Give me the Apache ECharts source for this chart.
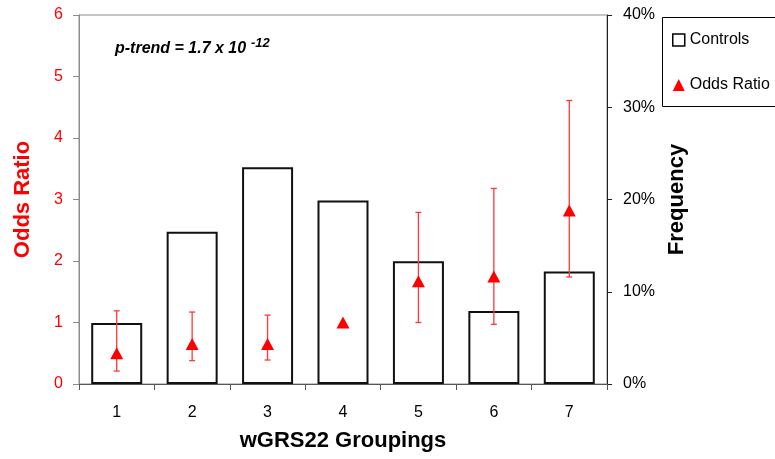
<!DOCTYPE html>
<html>
<head>
<meta charset="UTF-8">
<title>wGRS22 Groupings</title>
<script src="https://cdn.jsdelivr.net/npm/echarts@6/dist/echarts.min.js"></script>
<style>
  html, body { margin: 0; padding: 0; background: #fff; }
  #chart { width: 775px; height: 459px; }
</style>
</head>
<body>
<div id="chart"></div>
<script>
// data
var groups = ['1', '2', '3', '4', '5', '6', '7'];
var controlsFreq = [6.6, 16.5, 23.5, 19.9, 13.3, 7.9, 12.2];   // % (right axis)
var oddsRatio = [0.50, 0.65, 0.65, 1.00, 1.67, 1.75, 2.82];
var ciLow = [0.21, 0.38, 0.39, null, 1.00, 0.97, 1.74];
var ciHigh = [1.19, 1.17, 1.12, null, 2.79, 3.18, 4.61];
var orTicks = [0, 6, 1];      // min, max, step
var freqTicks = [0, 40, 10];

var FONT = 'Liberation Sans, Arial, sans-serif';

var errData = [];
for (var i = 0; i < groups.length; i++) {
  if (ciLow[i] != null) errData.push([i, ciLow[i], ciHigh[i]]);
}

var chart = echarts.init(document.getElementById('chart'));

var option = {
  animation: false,
  textStyle: { fontFamily: FONT },
  grid: {
    left: 79, right: 168, top: 15, bottom: 75,
    show: true, borderColor: '#8c8c8c', borderWidth: 1
  },
  legend: {
    orient: 'vertical',
    left: 662, top: 17,
    padding: [15, 10, 13, 10],
    itemGap: 29,
    itemWidth: 12, itemHeight: 12,
    textStyle: { fontSize: 16, color: '#000', fontFamily: FONT },
    data: [
      { name: 'Controls', icon: 'rect', itemStyle: { color: '#fff', borderColor: '#000', borderWidth: 1.5 } },
      { name: 'Odds Ratio', icon: 'triangle', itemStyle: { color: '#ff0000' } }
    ]
  },
  xAxis: {
    type: 'category',
    data: groups,
    name: 'wGRS22 Groupings',
    nameLocation: 'middle',
    nameGap: 46,
    nameTextStyle: { fontSize: 22, fontWeight: 'bold', color: '#000', fontFamily: FONT },
    axisLine: { lineStyle: { color: '#555', width: 1 } },
    axisTick: { show: true, length: 6, lineStyle: { color: '#555' } },
    axisLabel: { fontSize: 16, color: '#000', margin: 21 }
  },
  yAxis: [{
    type: 'value',
    min: orTicks[0], max: orTicks[1], interval: orTicks[2],
    name: 'Odds Ratio',
    nameLocation: 'middle',
    nameGap: 45,
    nameTextStyle: { fontSize: 22, fontWeight: 'bold', color: '#ff0000', fontFamily: FONT },
    axisLine: { show: true, lineStyle: { color: '#8c8c8c' } },
    axisTick: { show: true, length: 6, lineStyle: { color: '#8c8c8c' } },
    axisLabel: { fontSize: 16, color: '#ff0000', margin: 16 },
    splitLine: { show: false }
  }, {
    type: 'value',
    min: freqTicks[0], max: freqTicks[1], interval: freqTicks[2],
    name: 'Frequency',
    nameLocation: 'middle',
    nameGap: 57,
    nameTextStyle: { fontSize: 22, fontWeight: 'bold', color: '#000', fontFamily: FONT },
    axisLine: { show: true, lineStyle: { color: '#222' } },
    axisTick: { show: true, length: 5, lineStyle: { color: '#222' } },
    axisLabel: { fontSize: 16, color: '#000', margin: 16, formatter: '{value}%' },
    splitLine: { show: false }
  }],
  graphic: [
    // legend frame, runs off the right edge like the original
    { type: 'rect', left: 662, top: 17, z: -1,
      shape: { width: 140, height: 89 },
      style: { fill: '#fff', stroke: '#000', lineWidth: 1 } },
    { type: 'text', left: 115, top: 41,
      style: { text: 'p-trend = 1.7 x 10', font: 'italic bold 16px ' + FONT, fill: '#000' } },
    { type: 'text', left: 251, top: 37,
      style: { text: '-12', font: 'italic bold 13px ' + FONT, fill: '#000' } }
  ],
  series: [{
    name: 'Controls',
    type: 'bar',
    yAxisIndex: 1,
    data: controlsFreq,
    barWidth: 51,
    itemStyle: { color: '#fff', borderColor: '#111', borderWidth: 2 },
    z: 1
  }, {
    name: 'CI',
    type: 'custom',
    yAxisIndex: 0,
    data: errData,
    z: 3,
    renderItem: function (params, api) {
      var x = api.value(0);
      var lo = api.coord([x, api.value(1)]);
      var hi = api.coord([x, api.value(2)]);
      var cap = 3;
      var st = { stroke: '#ff3838', lineWidth: 1.3 };
      return {
        type: 'group',
        children: [
          { type: 'line', shape: { x1: lo[0], y1: lo[1], x2: hi[0], y2: hi[1] }, style: st },
          { type: 'line', shape: { x1: lo[0] - cap, y1: lo[1], x2: lo[0] + cap, y2: lo[1] }, style: st },
          { type: 'line', shape: { x1: hi[0] - cap, y1: hi[1], x2: hi[0] + cap, y2: hi[1] }, style: st }
        ]
      };
    }
  }, {
    name: 'Odds Ratio',
    type: 'scatter',
    yAxisIndex: 0,
    data: oddsRatio,
    symbol: 'triangle',
    symbolSize: [13, 12],
    itemStyle: { color: '#ff0000', opacity: 1 },
    z: 4
  }]
};

chart.setOption(option);
</script>
</body>
</html>
